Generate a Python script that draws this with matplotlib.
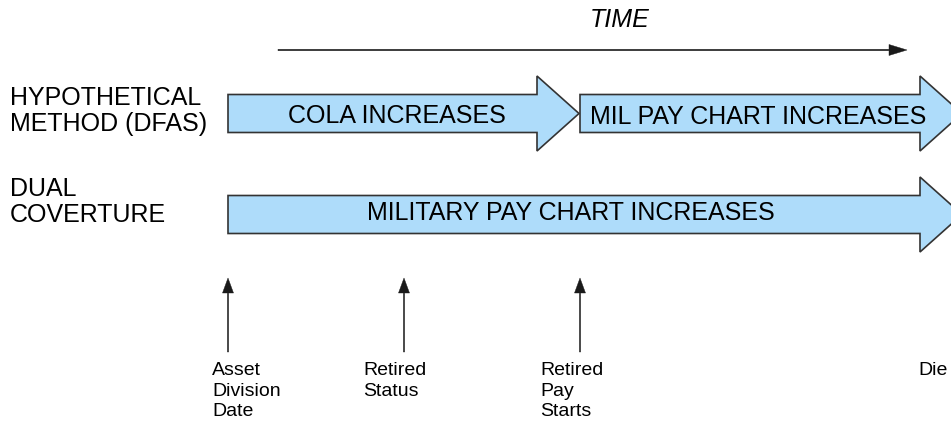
import matplotlib
matplotlib.use("Agg")
import matplotlib.pyplot as plt

# ---- diagram data (x = time position in px along the timeline, y = row centre) ----
row_labels = ["HYPOTHETICAL\nMETHOD (DFAS)", "DUAL\nCOVERTURE"]
row_label_top = [86, 177]
row_y = [113.5, 214.5]              # centre of each row's block arrows

# phases: (row index, label, start, end)
phase_row = [0, 0, 1]
phase_text = ["COLA INCREASES", "MIL PAY CHART INCREASES", "MILITARY PAY CHART INCREASES"]
phase_start = [228, 580, 228]
phase_end = [579, 962, 962]
phase_text_x = [397, 758, 571]
phase_text_base = [123, 124.5, 220]

events = ["Asset\nDivision\nDate", "Retired\nStatus", "Retired\nPay\nStarts", "Die"]
event_x = [228, 404, 580, 958]
event_label_x = [212, 363, 540, 918]

time_start, time_end = 278, 907

FILL = "#aedcfa"
EDGE = "#333333"
FONT = "Liberation Sans"

fig = plt.figure(figsize=(9.51, 4.23), dpi=100)
ax = fig.add_axes([0, 0, 1, 1])
ax.set_xlim(0, 951)
ax.set_ylim(423, 0)
ax.axis("off")

# time axis
ax.arrow(time_start, 50, time_end - time_start, 0, width=1.4, head_width=11, head_length=18,
         length_includes_head=True, fc="#1a1a1a", ec="#1a1a1a", lw=0.3)
ax.text(620, 27, "TIME", fontsize=18, style="italic",
        family=FONT, ha="center", va="baseline")

# row labels
for lab, y in zip(row_labels, row_label_top):
    ax.text(10, y, lab, fontsize=18, family=FONT, ha="left", va="top", linespacing=1.08)

# block arrows
for r, txt, x0, x1, tx, tb in zip(phase_row, phase_text, phase_start, phase_end,
                                  phase_text_x, phase_text_base):
    yc = row_y[r]
    ax.arrow(x0, yc, x1 - x0, 0, width=38, head_width=75, head_length=42,
             length_includes_head=True, fc=FILL, ec=EDGE, lw=1.2, zorder=2)
    ax.text(tx, tb, txt, fontsize=18, family=FONT, ha="center", va="baseline", zorder=3)

# event markers
for lab, x, lx in zip(events, event_x, event_label_x):
    ax.arrow(x, 352, 0, 278 - 352, width=1.2, head_width=11, head_length=15,
             length_includes_head=True, fc="#1a1a1a", ec="#1a1a1a", lw=0.3)
    ax.text(lx, 362, lab, fontsize=14, family=FONT, ha="left", va="top",
            linespacing=1.27)

fig.savefig("out.png", dpi=100)
